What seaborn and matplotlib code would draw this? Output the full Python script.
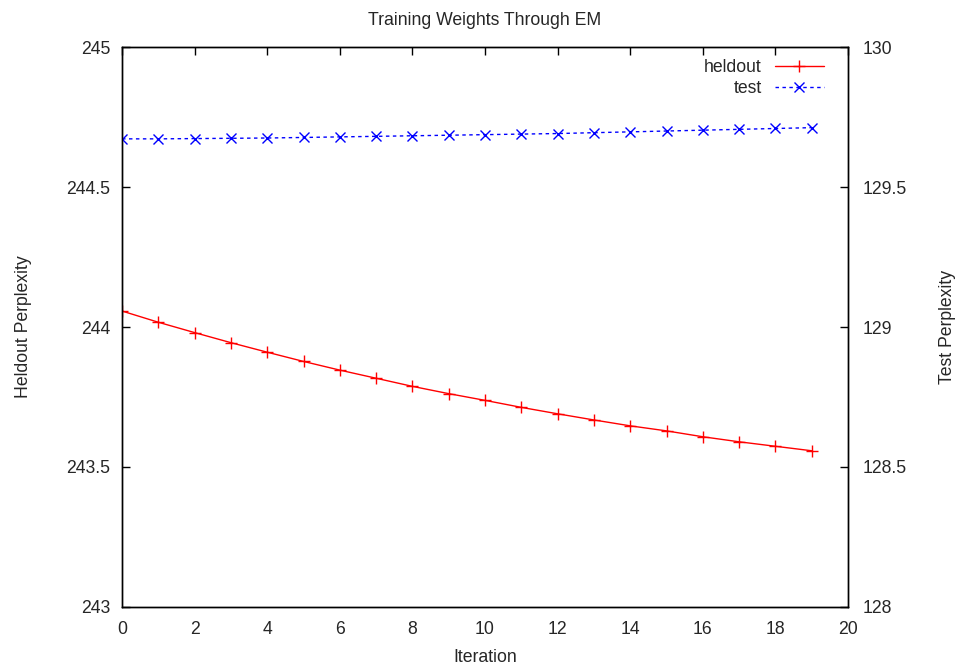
import matplotlib
matplotlib.use("Agg")
import matplotlib.pyplot as plt
import seaborn as sns
import pandas as pd
from matplotlib.ticker import FormatStrFormatter, MultipleLocator

iterations = list(range(20))
heldout = [244.057, 244.017, 243.980, 243.944, 243.910, 243.877, 243.846, 243.817,
           243.788, 243.762, 243.738, 243.713, 243.690, 243.668, 243.647, 243.629,
           243.608, 243.590, 243.574, 243.558]
test = [129.672, 129.672, 129.673, 129.674, 129.675, 129.677, 129.679, 129.681,
        129.683, 129.685, 129.687, 129.689, 129.691, 129.694, 129.697, 129.700,
        129.703, 129.706, 129.709, 129.712]

title = "Training Weights Through EM"
xlabel = "Iteration"
ylabel_left = "Heldout Perplexity"
ylabel_right = "Test Perplexity"

FS = 12.7

sns.set_theme(style="white")
plt.rcParams['font.family'] = ['Liberation Sans', 'DejaVu Sans']
plt.rcParams['font.size'] = FS

df = pd.DataFrame({"iter": iterations, "heldout": heldout, "test": test})

fig = plt.figure(figsize=(9.61, 6.66), dpi=100)
ax = fig.add_axes([0.127, 0.0886, 0.7554, 0.8408])
ax2 = ax.twinx()

sns.lineplot(data=df, x="iter", y="heldout", ax=ax, color="#ff0000", linewidth=1,
             marker="+", markersize=8, markeredgewidth=1, markeredgecolor="#ff0000",
             label="heldout", legend=False)
sns.lineplot(data=df, x="iter", y="test", ax=ax2, color="#0000ff", linewidth=1,
             linestyle=(0, (2.5, 2.5)), marker="x", markersize=6.5, markeredgewidth=1,
             markeredgecolor="#0000ff", label="test", legend=False)

ax.set_xlim(0, 20)
ax.set_ylim(243, 245)
ax2.set_ylim(128, 130)
ax.xaxis.set_major_locator(MultipleLocator(2))
ax.yaxis.set_major_locator(MultipleLocator(0.5))
ax2.yaxis.set_major_locator(MultipleLocator(0.5))
ax.yaxis.set_major_formatter(FormatStrFormatter('%g'))
ax2.yaxis.set_major_formatter(FormatStrFormatter('%g'))

for a in (ax, ax2):
    for s in a.spines.values():
        s.set_color("black")
        s.set_linewidth(1)
        s.set_visible(True)
ax.tick_params(axis='x', direction='in', length=6, width=1, color='black', top=True,
               labelsize=FS, pad=10)
ax.tick_params(axis='y', direction='in', length=6, width=1, color='black', left=True,
               right=False, labelsize=FS, pad=8.5)
ax2.tick_params(axis='y', direction='in', length=6, width=1, color='black', right=True,
                left=False, labelsize=FS, pad=10.5)

ax.set_xlabel(xlabel, fontsize=FS, labelpad=8)
ax.set_ylabel(ylabel_left, fontsize=FS, labelpad=25)
ax2.set_ylabel(ylabel_right, fontsize=FS, labelpad=23)
ax.set_title(title, fontsize=FS, pad=16)

h1, l1 = ax.get_legend_handles_labels()
h2, l2 = ax2.get_legend_handles_labels()
ax2.legend(h1 + h2, l1 + l2, loc="upper right", bbox_to_anchor=(0.967, 0.978),
           frameon=False, markerfirst=False, handlelength=2.8, fontsize=FS,
           borderaxespad=0, borderpad=0, labelspacing=0.2, handletextpad=0.72)

fig.savefig("out.png", dpi=100)
